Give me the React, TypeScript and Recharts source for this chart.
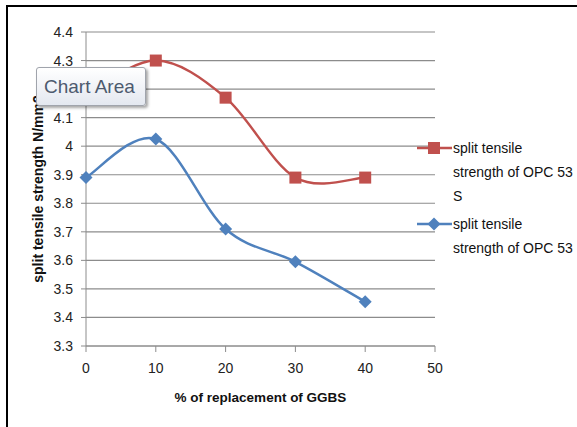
import React from "react";
import { LineChart, Line, XAxis, YAxis, CartesianGrid } from "recharts";

const replacement = [0, 10, 20, 30, 40];
const opc53s = [4.18, 4.3, 4.17, 3.89, 3.89];
const opc53 = [3.89, 4.025, 3.71, 3.595, 3.455];
const xTicks = [0, 10, 20, 30, 40, 50];
const yTicks = [3.3, 3.4, 3.5, 3.6, 3.7, 3.8, 3.9, 4.0, 4.1, 4.2, 4.3, 4.4];

const RED = "#c0504d";
const BLUE = "#4f81bd";
const FONT = "'Liberation Sans', Arial, sans-serif";

const data = replacement.map((x, i) => ({ x, s: opc53s[i], p: opc53[i] }));

// Excel-style smoothed line (Catmull-Rom as cubic beziers)
const excelSmooth = (context: any) => {
  let pts: number[][] = [];
  return {
    areaStart() {},
    areaEnd() {},
    lineStart() {
      pts = [];
    },
    point(x: number, y: number) {
      pts.push([+x, +y]);
    },
    lineEnd() {
      if (!pts.length) return;
      context.moveTo(pts[0][0], pts[0][1]);
      for (let i = 0; i < pts.length - 1; i++) {
        const p0 = pts[Math.max(i - 1, 0)];
        const p1 = pts[i];
        const p2 = pts[i + 1];
        const p3 = pts[Math.min(i + 2, pts.length - 1)];
        context.bezierCurveTo(
          p1[0] + (p2[0] - p0[0]) / 6,
          p1[1] + (p2[1] - p0[1]) / 6,
          p2[0] - (p3[0] - p1[0]) / 6,
          p2[1] - (p3[1] - p1[1]) / 6,
          p2[0],
          p2[1]
        );
      }
    },
  };
};

const Square = ({ cx, cy }: { cx: number; cy: number }) => (
  <rect x={cx - 6} y={cy - 6} width={12} height={12} fill={RED} />
);

const Diamond = ({ cx, cy }: { cx: number; cy: number }) => (
  <path d={`M${cx},${cy - 6.5}L${cx + 6.5},${cy}L${cx},${cy + 6.5}L${cx - 6.5},${cy}Z`} fill={BLUE} />
);

function LegendBox() {
  const text: React.CSSProperties = { fontFamily: FONT, fontSize: 14, color: "#111", lineHeight: "24px" };
  return (
    <div style={{ position: "absolute", left: 417, top: 136, width: 160 }}>
      <div style={{ display: "flex" }}>
        <svg width={36} height={24}>
          <line x1={0} y1={12} x2={35} y2={12} stroke={RED} strokeWidth={2.5} />
          <Square cx={17} cy={12} />
        </svg>
        <div style={text}>
          split tensile
          <br />
          strength of OPC 53
          <br />S
        </div>
      </div>
      <div style={{ display: "flex", marginTop: 4 }}>
        <svg width={36} height={24}>
          <line x1={0} y1={12} x2={35} y2={12} stroke={BLUE} strokeWidth={2.5} />
          <Diamond cx={17} cy={12} />
        </svg>
        <div style={text}>
          split tensile
          <br />
          strength of OPC 53
        </div>
      </div>
    </div>
  );
}

export default function App() {
  return (
    <div style={{ position: "absolute", left: 0, top: 0, width: 577, height: 427, background: "#fff", overflow: "hidden" }}>
      <div
        style={{
          position: "absolute",
          left: 6,
          top: 5,
          width: 700,
          height: 600,
          borderTop: "2px solid #000",
          borderLeft: "2px solid #000",
        }}
      />
      <LineChart
        width={577}
        height={427}
        data={data}
        margin={{ top: 32, right: 142, bottom: 51, left: 36 }}
        style={{ position: "absolute", left: 0, top: 0 }}
      >
        <CartesianGrid vertical={false} stroke="#8c8c8c" strokeWidth={1.2} />
        <XAxis
          dataKey="x"
          type="number"
          domain={[0, 50]}
          ticks={xTicks}
          height={30}
          stroke="#8c8c8c"
          tickSize={6}
          tick={{ fill: "#222", fontSize: 14, fontFamily: FONT }}
          tickMargin={11}
          label={{
            value: "% of replacement of GGBS",
            position: "insideBottom",
            offset: -26,
            style: { fill: "#111", fontSize: 13.5, fontWeight: "bold", fontFamily: FONT },
          }}
        />
        <YAxis
          type="number"
          domain={[3.3, 4.4]}
          ticks={yTicks}
          width={50}
          stroke="#8c8c8c"
          tickSize={5}
          tickMargin={8}
          tickFormatter={(v: number) => String(Number(v.toFixed(1)))}
          tick={{ fill: "#222", fontSize: 14, fontFamily: FONT }}
          label={{
            value: "split tensile strength N/mm2",
            angle: -90,
            position: "insideLeft",
            offset: 2,
            style: { fill: "#111", fontSize: 14, fontWeight: "bold", fontFamily: FONT, textAnchor: "middle" },
          }}
        />
        <Line
          dataKey="s"
          type={excelSmooth as any}
          stroke={RED}
          strokeWidth={2.5}
          dot={(p: any) => <Square key={`s${p.index}`} cx={p.cx} cy={p.cy} />}
          activeDot={false}
          isAnimationActive={false}
        />
        <Line
          dataKey="p"
          type={excelSmooth as any}
          stroke={BLUE}
          strokeWidth={2.5}
          dot={(p: any) => <Diamond key={`p${p.index}`} cx={p.cx} cy={p.cy} />}
          activeDot={false}
          isAnimationActive={false}
        />
      </LineChart>
      <LegendBox />
      <div
        style={{
          position: "absolute",
          left: 36,
          top: 67,
          width: 110,
          height: 39,
          boxSizing: "border-box",
          border: "1px solid #a0a4ac",
          borderRadius: 3,
          background: "linear-gradient(#ffffff, #e4e8f0)",
          boxShadow: "2px 2px 3px rgba(0,0,0,0.35)",
          fontFamily: FONT,
          fontSize: 19,
          color: "#4d5a6e",
          lineHeight: "37px",
          paddingLeft: 7,
        }}
      >
        Chart Area
      </div>
    </div>
  );
}
